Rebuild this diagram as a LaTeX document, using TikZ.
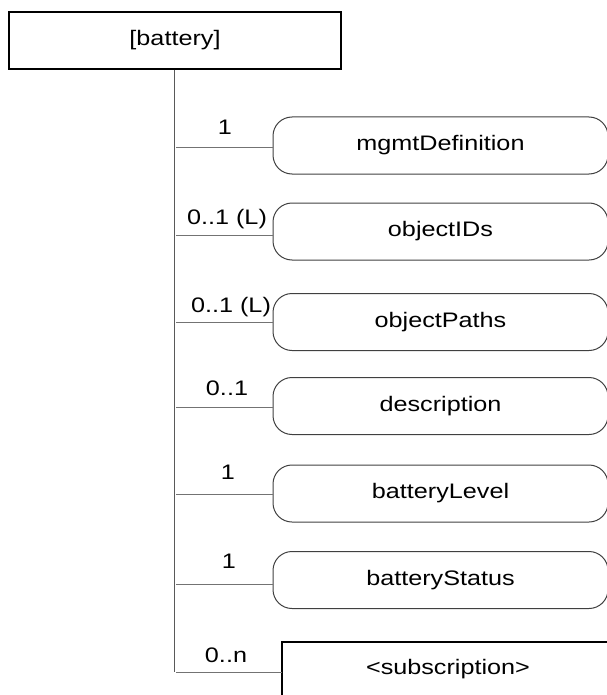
\documentclass[tikz,border=0pt]{standalone}
\usepackage{fontspec}
\setmainfont{Liberation Sans}[FakeStretch=1.2]
\begin{document}
\begin{tikzpicture}[x=1pt,y=-1pt,
  txt/.style={font=\fontsize{21pt}{25pt}\selectfont, inner sep=0pt},
  sqbox/.style={draw=black, line width=1.3pt},
  rbox/.style={draw=black!75, line width=1pt, rounded corners=19pt, minimum width=335pt, minimum height=57pt, inner sep=0pt, font=\fontsize{21pt}{25pt}\selectfont},
  conn/.style={draw=black!55, line width=1pt},
  trunk/.style={draw=black!65, line width=1pt}]
\useasboundingbox (0,0) rectangle (606,695);
% root
\node[sqbox, minimum width=332pt, minimum height=57pt, inner sep=0pt, txt] (root) at (175,40.5) {[battery]};
% children
\node[rbox] (m1) at (440.5,145.5) {mgmtDefinition};
\node[rbox] (m2) at (440.5,231.5) {objectIDs};
\node[rbox] (m3) at (440.5,322) {objectPaths};
\node[rbox] (m4) at (440.5,406) {description};
\node[rbox] (m5) at (440.5,493.5) {batteryLevel};
\node[rbox] (m6) at (440.5,580) {batteryStatus};
\draw[sqbox] (282,642) rectangle (625,720);
\node[txt] (m7) at (448,669) {<subscription>};
\coordinate (s7) at (282,672);
% trunk coordinates
\coordinate (t1) at (176,148);
\coordinate (t2) at (176,235);
\coordinate (t3) at (176,322);
\coordinate (t4) at (176,407);
\coordinate (t5) at (176,494);
\coordinate (t6) at (176,584);
\coordinate (t7) at (176,672);
\coordinate (tend) at (174,672);
\draw[trunk] (root.south -| tend) -- (tend);
\draw[conn] (t1) -- (t1 -| m1.west);
\draw[conn] (t2) -- (t2 -| m2.west);
\draw[conn] (t3) -- (t3 -| m3.west);
\draw[conn] (t4) -- (t4 -| m4.west);
\draw[conn] (t5) -- (t5 -| m5.west);
\draw[conn] (t6) -- (t6 -| m6.west);
\draw[conn] (t7) -- (s7);
% multiplicity labels
\node[txt] (l1) at (225,127) {1};
\node[txt] (l2) at (227,219) {0..1 (L)};
\node[txt] (l3) at (231,307) {0..1 (L)};
\node[txt] (l4) at (227,388) {0..1};
\node[txt] (l5) at (228,472) {1};
\node[txt] (l6) at (229,561) {1};
\node[txt] (l7) at (226,655) {0..n};
\end{tikzpicture}
\end{document}
